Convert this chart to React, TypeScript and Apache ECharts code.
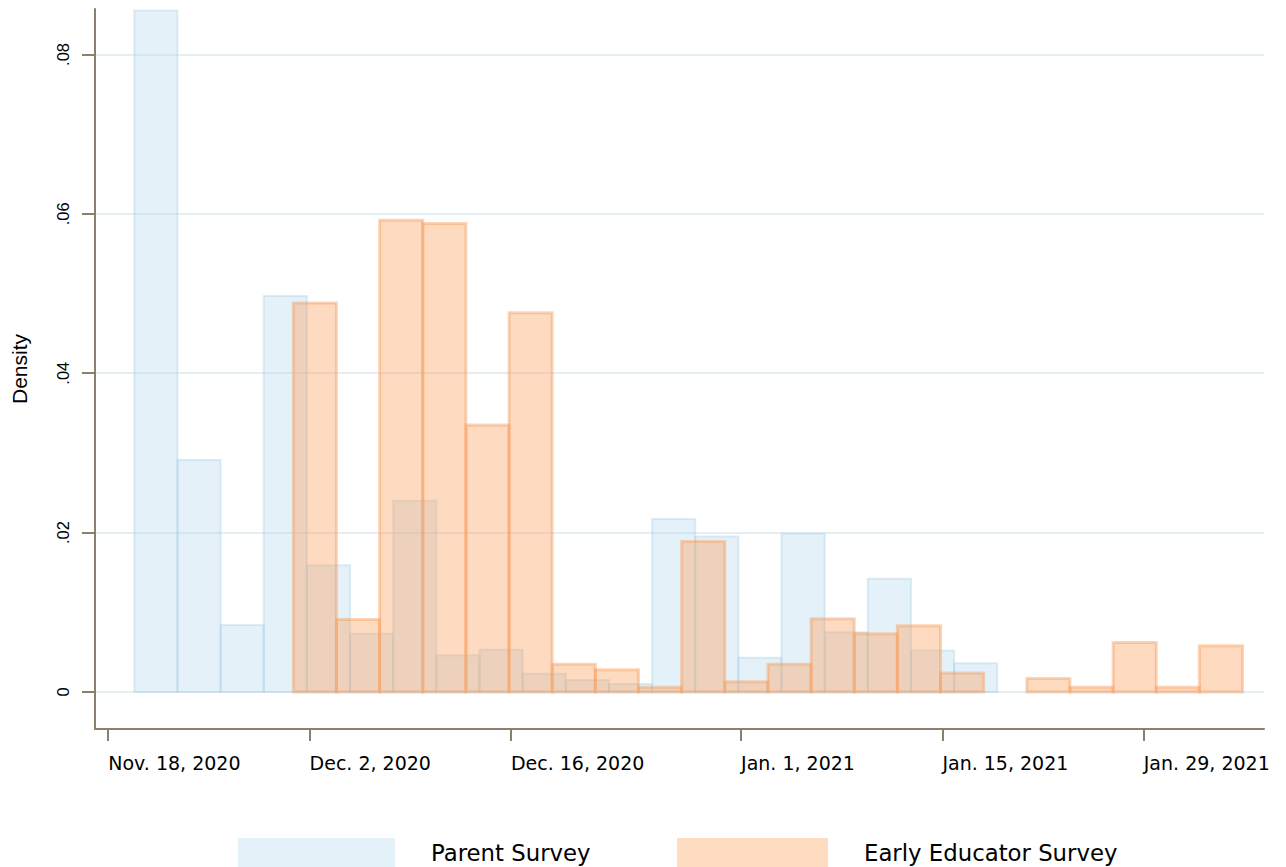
import React, { useEffect, useRef } from "react";
import * as echarts from "echarts";

// Day offsets are counted from Nov. 18, 2020
const xTickDays = [0, 14, 28, 44, 58, 72];
const xTickLabels = ["Nov. 18, 2020", "Dec. 2, 2020", "Dec. 16, 2020", "Jan. 1, 2021", "Jan. 15, 2021", "Jan. 29, 2021"];
const yTickValues = [0, 0.02, 0.04, 0.06, 0.08];
const yTickLabels = ["0", ".02", ".04", ".06", ".08"];

const binWidthDays = 3;
const parentFirstBinStart = 1.815;
const educatorFirstBinStart = 12.87;

const parentDensity = [
  0.0855, 0.0291, 0.0084, 0.0497, 0.0159, 0.0073, 0.024, 0.0046, 0.0053, 0.0023,
  0.0015, 0.001, 0.0217, 0.0195, 0.0043, 0.0199, 0.0075, 0.0142, 0.0052, 0.0036,
];
const educatorDensity = [
  0.0488, 0.0091, 0.0592, 0.0588, 0.0335, 0.0476, 0.0035, 0.0028, 0.0006, 0.0189,
  0.0013, 0.0035, 0.0092, 0.0073, 0.0083, 0.0024, 0, 0.0017, 0.0006, 0.0062,
  0.0006, 0.0058,
];

const seriesNames = ["Parent Survey", "Early Educator Survey"];

function toBins(start: number, values: number[]) {
  return values.map((v, i) => [start + i * binWidthDays, start + (i + 1) * binWidthDays, v]);
}

const AXIS_COLOR = "#8a806c";

export default function App() {
  const ref = useRef<HTMLDivElement>(null);
  useEffect(() => {
    if (!ref.current) return;
    const chart = echarts.init(ref.current, null, { renderer: "svg" });

    const makeRender = (fill: string, stroke: string, lw: number) => (params: any, api: any) => {
      const s = api.value(0);
      const e = api.value(1);
      const v = api.value(2);
      if (!v) return null;
      const p0 = api.coord([s, v]);
      const p1 = api.coord([e, 0]);
      return {
        type: "rect",
        shape: { x: p0[0], y: p0[1], width: p1[0] - p0[0], height: p1[1] - p0[1] },
        style: { fill, stroke, lineWidth: lw },
      };
    };

    const legendText = { fontFamily: "DejaVu Sans", fontSize: 22.8, color: "#000", padding: [0, 0, 0, 31] };

    chart.setOption({
      animation: false,
      grid: { left: 95, right: 22, top: 9, bottom: 138, containLabel: false },
      xAxis: {
        type: "value",
        min: -0.918,
        max: 80.36,
        axisLine: { show: true, onZero: false, lineStyle: { color: AXIS_COLOR, width: 2 } },
        axisTick: { show: true, length: 12, customValues: xTickDays, lineStyle: { color: AXIS_COLOR, width: 2 } },
        axisLabel: {
          customValues: xTickDays,
          formatter: (val: number) => {
            const i = xTickDays.indexOf(Math.round(val));
            return i >= 0 ? xTickLabels[i] : "";
          },
          align: "left",
          margin: 24,
          color: "#000",
          fontFamily: "DejaVu Sans",
          fontSize: 19,
        },
        splitLine: { show: false },
      },
      yAxis: {
        type: "value",
        min: -0.00464,
        max: 0.0857,
        name: "Density",
        nameLocation: "middle",
        nameRotate: 90,
        nameGap: 65,
        nameTextStyle: { fontFamily: "Liberation Sans", fontSize: 21, color: "#000" },
        axisLine: { show: true, onZero: false, lineStyle: { color: AXIS_COLOR, width: 2 } },
        axisTick: { show: true, length: 13, customValues: yTickValues, lineStyle: { color: AXIS_COLOR, width: 2 } },
        axisLabel: {
          customValues: yTickValues,
          rotate: 90,
          margin: 24,
          formatter: (val: number) => {
            const i = yTickValues.findIndex((t) => Math.abs(t - val) < 1e-9);
            return i >= 0 ? yTickLabels[i] : "";
          },
          color: "#000",
          fontFamily: "Liberation Sans",
          fontSize: 16.5,
        },
        splitLine: { show: true, lineStyle: { color: "#e4eff3", width: 2 } },
      },
      legend: [
        {
          data: [{ name: seriesNames[0], icon: "rect", itemStyle: { color: "#e4f1f8", borderWidth: 0 } }],
          left: 238,
          top: 838,
          padding: 0,
          itemWidth: 157,
          itemHeight: 30,
          selectedMode: false,
          textStyle: legendText,
        },
        {
          data: [{ name: seriesNames[1], icon: "rect", itemStyle: { color: "#fddcc0", borderWidth: 0 } }],
          left: 677,
          top: 838,
          padding: 0,
          itemWidth: 151,
          itemHeight: 30,
          selectedMode: false,
          textStyle: legendText,
        },
      ],
      series: [
        {
          name: seriesNames[0],
          type: "custom",
          itemStyle: { color: "#e4f1f8" },
          encode: { x: [0, 1], y: 2 },
          data: toBins(parentFirstBinStart, parentDensity),
          renderItem: makeRender("rgba(165,208,232,0.3)", "rgba(160,205,228,0.34)", 2),
          z: 2,
        },
        {
          name: seriesNames[1],
          type: "custom",
          itemStyle: { color: "#fddcc0" },
          encode: { x: [0, 1], y: 2 },
          data: toBins(educatorFirstBinStart, educatorDensity),
          renderItem: makeRender("rgba(250,162,97,0.4)", "rgba(247,155,88,0.42)", 3),
          z: 3,
        },
      ],
    });
    return () => chart.dispose();
  }, []);
  return <div ref={ref} style={{ position: "absolute", left: 0, top: 0, width: 1286, height: 867 }} />;
}
